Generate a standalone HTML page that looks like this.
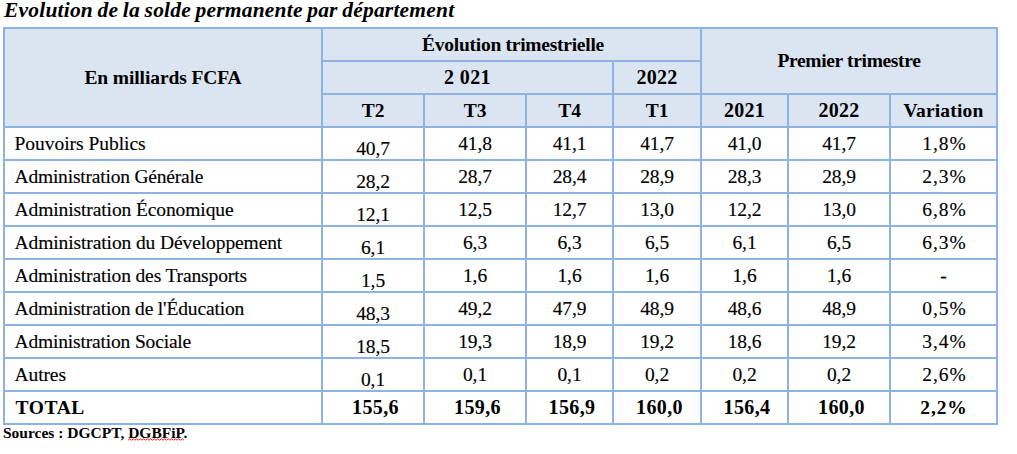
<!DOCTYPE html>
<html><head><meta charset="utf-8"><style>
html,body{margin:0;padding:0;background:#fff;}
body{width:1017px;height:454px;position:relative;overflow:hidden;}
.l{position:absolute;background:#8db3e2;}
.t,.b{position:absolute;white-space:nowrap;font-family:"Liberation Serif",serif;font-size:19.5px;line-height:22px;letter-spacing:-0.1px;color:#000;text-align:center;}
.b{font-weight:bold;}
.t{-webkit-text-stroke:0.15px #000;}
.title{position:absolute;left:4px;top:-1px;white-space:nowrap;font-family:"Liberation Serif",serif;font-weight:bold;font-style:italic;font-size:21.5px;line-height:22px;letter-spacing:0.2px;word-spacing:-1px;color:#000;}
.src{position:absolute;left:3px;top:422px;white-space:nowrap;font-family:"Liberation Serif",serif;font-weight:bold;font-size:15.5px;line-height:22px;color:#000;}
.sq{text-decoration:underline wavy #e03030;text-decoration-thickness:1px;text-underline-offset:1px;}
</style></head><body>
<div class="title">Evolution de la solde permanente par département</div>
<div style="position:absolute;left:5px;top:29px;width:991px;height:97px;background:#dbe5f1"></div>
<div class="l" style="left:3px;top:27px;width:995px;height:2px"></div>
<div class="l" style="left:321px;top:60px;width:381px;height:2px"></div>
<div class="l" style="left:321px;top:93px;width:677px;height:2px"></div>
<div class="l" style="left:3px;top:126px;width:995px;height:2px"></div>
<div class="l" style="left:3px;top:159px;width:995px;height:2px"></div>
<div class="l" style="left:3px;top:192px;width:995px;height:2px"></div>
<div class="l" style="left:3px;top:225px;width:995px;height:2px"></div>
<div class="l" style="left:3px;top:258px;width:995px;height:2px"></div>
<div class="l" style="left:3px;top:291px;width:995px;height:2px"></div>
<div class="l" style="left:3px;top:324px;width:995px;height:2px"></div>
<div class="l" style="left:3px;top:357px;width:995px;height:2px"></div>
<div class="l" style="left:3px;top:390px;width:995px;height:2px"></div>
<div class="l" style="left:3px;top:423px;width:995px;height:2px"></div>
<div class="l" style="left:3px;top:27px;width:2px;height:398px"></div>
<div class="l" style="left:996px;top:27px;width:2px;height:398px"></div>
<div class="l" style="left:321px;top:27px;width:2px;height:398px"></div>
<div class="l" style="left:700px;top:27px;width:2px;height:398px"></div>
<div class="l" style="left:423px;top:93px;width:2px;height:332px"></div>
<div class="l" style="left:525px;top:93px;width:2px;height:332px"></div>
<div class="l" style="left:612px;top:93px;width:2px;height:332px"></div>
<div class="l" style="left:612px;top:60px;width:2px;height:365px"></div>
<div class="l" style="left:787px;top:93px;width:2px;height:332px"></div>
<div class="l" style="left:889px;top:93px;width:2px;height:332px"></div>
<div class="b" style="left:5px;top:67px;width:316px;">En milliards FCFA</div>
<div class="b" style="left:324.5px;top:34px;width:377px;letter-spacing:-0.26px">Évolution trimestrielle</div>
<div class="b" style="left:323px;top:66px;width:289px;font-size:20px;letter-spacing:0.4px">2 021</div>
<div class="b" style="left:614px;top:66px;width:86px;font-size:20px;letter-spacing:0.2px">2022</div>
<div class="b" style="left:702px;top:50px;width:294px;letter-spacing:-0.34px">Premier trimestre</div>
<div class="b" style="left:323px;top:100px;width:100px;">T2</div>
<div class="b" style="left:425px;top:100px;width:100px;">T3</div>
<div class="b" style="left:527px;top:100px;width:85px;">T4</div>
<div class="b" style="left:614px;top:100px;width:86px;">T1</div>
<div class="b" style="left:702px;top:99px;width:85px;font-size:20px;letter-spacing:0.2px">2021</div>
<div class="b" style="left:789px;top:99px;width:100px;font-size:20px;letter-spacing:0.2px">2022</div>
<div class="b" style="left:891px;top:100px;width:105px;letter-spacing:0.17px">Variation</div>
<div class="t" style="left:14.5px;top:133px;letter-spacing:-0.03px">Pouvoirs Publics</div>
<div class="t" style="left:323px;top:138px;width:100px;">40,7</div>
<div class="t" style="left:425px;top:133px;width:100px;">41,8</div>
<div class="t" style="left:527px;top:133px;width:85px;">41,1</div>
<div class="t" style="left:614px;top:133px;width:86px;">41,7</div>
<div class="t" style="left:702px;top:133px;width:85px;">41,0</div>
<div class="t" style="left:789px;top:133px;width:100px;">41,7</div>
<div class="t" style="left:892px;top:133px;width:105px;letter-spacing:1px">1,8%</div>
<div class="t" style="left:14.5px;top:166px;letter-spacing:-0.2px">Administration Générale</div>
<div class="t" style="left:323px;top:171px;width:100px;">28,2</div>
<div class="t" style="left:425px;top:166px;width:100px;">28,7</div>
<div class="t" style="left:527px;top:166px;width:85px;">28,4</div>
<div class="t" style="left:614px;top:166px;width:86px;">28,9</div>
<div class="t" style="left:702px;top:166px;width:85px;">28,3</div>
<div class="t" style="left:789px;top:166px;width:100px;">28,9</div>
<div class="t" style="left:892px;top:166px;width:105px;letter-spacing:1px">2,3%</div>
<div class="t" style="left:14.5px;top:199px;letter-spacing:-0.1px">Administration Économique</div>
<div class="t" style="left:323px;top:204px;width:100px;">12,1</div>
<div class="t" style="left:425px;top:199px;width:100px;">12,5</div>
<div class="t" style="left:527px;top:199px;width:85px;">12,7</div>
<div class="t" style="left:614px;top:199px;width:86px;">13,0</div>
<div class="t" style="left:702px;top:199px;width:85px;">12,2</div>
<div class="t" style="left:789px;top:199px;width:100px;">13,0</div>
<div class="t" style="left:892px;top:199px;width:105px;letter-spacing:1px">6,8%</div>
<div class="t" style="left:14.5px;top:232px;letter-spacing:-0.1px">Administration du Développement</div>
<div class="t" style="left:323px;top:237px;width:100px;">6,1</div>
<div class="t" style="left:425px;top:232px;width:100px;">6,3</div>
<div class="t" style="left:527px;top:232px;width:85px;">6,3</div>
<div class="t" style="left:614px;top:232px;width:86px;">6,5</div>
<div class="t" style="left:702px;top:232px;width:85px;">6,1</div>
<div class="t" style="left:789px;top:232px;width:100px;">6,5</div>
<div class="t" style="left:892px;top:232px;width:105px;letter-spacing:1px">6,3%</div>
<div class="t" style="left:14.5px;top:265px;letter-spacing:-0.13px">Administration des Transports</div>
<div class="t" style="left:323px;top:270px;width:100px;">1,5</div>
<div class="t" style="left:425px;top:265px;width:100px;">1,6</div>
<div class="t" style="left:527px;top:265px;width:85px;">1,6</div>
<div class="t" style="left:614px;top:265px;width:86px;">1,6</div>
<div class="t" style="left:702px;top:265px;width:85px;">1,6</div>
<div class="t" style="left:789px;top:265px;width:100px;">1,6</div>
<div class="t" style="left:891px;top:265px;width:105px;">-</div>
<div class="t" style="left:14.5px;top:298px;letter-spacing:-0.16px">Administration de l'Éducation</div>
<div class="t" style="left:323px;top:303px;width:100px;">48,3</div>
<div class="t" style="left:425px;top:298px;width:100px;">49,2</div>
<div class="t" style="left:527px;top:298px;width:85px;">47,9</div>
<div class="t" style="left:614px;top:298px;width:86px;">48,9</div>
<div class="t" style="left:702px;top:298px;width:85px;">48,6</div>
<div class="t" style="left:789px;top:298px;width:100px;">48,9</div>
<div class="t" style="left:892px;top:298px;width:105px;letter-spacing:1px">0,5%</div>
<div class="t" style="left:14.5px;top:331px;letter-spacing:-0.17px">Administration Sociale</div>
<div class="t" style="left:323px;top:336px;width:100px;">18,5</div>
<div class="t" style="left:425px;top:331px;width:100px;">19,3</div>
<div class="t" style="left:527px;top:331px;width:85px;">18,9</div>
<div class="t" style="left:614px;top:331px;width:86px;">19,2</div>
<div class="t" style="left:702px;top:331px;width:85px;">18,6</div>
<div class="t" style="left:789px;top:331px;width:100px;">19,2</div>
<div class="t" style="left:892px;top:331px;width:105px;letter-spacing:1px">3,4%</div>
<div class="t" style="left:14.5px;top:364px;letter-spacing:-0.1px">Autres</div>
<div class="t" style="left:323px;top:369px;width:100px;">0,1</div>
<div class="t" style="left:425px;top:364px;width:100px;">0,1</div>
<div class="t" style="left:527px;top:364px;width:85px;">0,1</div>
<div class="t" style="left:614px;top:364px;width:86px;">0,2</div>
<div class="t" style="left:702px;top:364px;width:85px;">0,2</div>
<div class="t" style="left:789px;top:364px;width:100px;">0,2</div>
<div class="t" style="left:892px;top:364px;width:105px;letter-spacing:1px">2,6%</div>
<div class="b" style="left:15.5px;top:397px;letter-spacing:0.6px">TOTAL</div>
<div class="b" style="left:325.5px;top:396px;width:100px;font-size:20px;letter-spacing:0.4px">155,6</div>
<div class="b" style="left:427.5px;top:396px;width:100px;font-size:20px;letter-spacing:0.4px">159,6</div>
<div class="b" style="left:529.5px;top:396px;width:85px;font-size:20px;letter-spacing:0.4px">156,9</div>
<div class="b" style="left:616.5px;top:396px;width:86px;font-size:20px;letter-spacing:0.4px">160,0</div>
<div class="b" style="left:704.5px;top:396px;width:85px;font-size:20px;letter-spacing:0.4px">156,4</div>
<div class="b" style="left:791.5px;top:396px;width:100px;font-size:20px;letter-spacing:0.4px">160,0</div>
<div class="b" style="left:891.5px;top:397px;width:105px;letter-spacing:0.9px">2,2%</div>
<div class="src">Sources : DGCPT, DGBFiP.</div>
<svg style="position:absolute;left:127.5px;top:438px" width="59" height="3" viewBox="0 0 59 3"><path d="M0.00,2.2 L1.75,0.8 L3.50,2.2 L5.25,0.8 L7.00,2.2 L8.75,0.8 L10.50,2.2 L12.25,0.8 L14.00,2.2 L15.75,0.8 L17.50,2.2 L19.25,0.8 L21.00,2.2 L22.75,0.8 L24.50,2.2 L26.25,0.8 L28.00,2.2 L29.75,0.8 L31.50,2.2 L33.25,0.8 L35.00,2.2 L36.75,0.8 L38.50,2.2 L40.25,0.8 L42.00,2.2 L43.75,0.8 L45.50,2.2 L47.25,0.8 L49.00,2.2 L50.75,0.8 L52.50,2.2 L54.25,0.8 L56.00,2.2" fill="none" stroke="#ff1a1a" stroke-width="1"/></svg>
</body></html>
